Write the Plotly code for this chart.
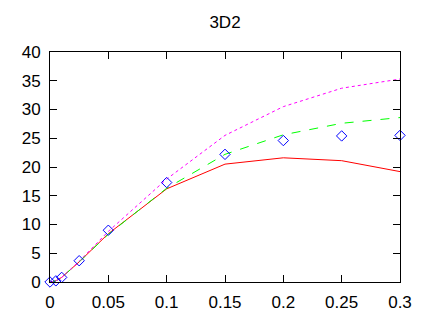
import plotly.graph_objects as go

x_lines = [0, 0.005, 0.01, 0.025, 0.05, 0.1, 0.15, 0.2, 0.25, 0.3]
red_vals = [0, 0.2, 0.8, 3.5, 8.4, 16.2, 20.5, 21.6, 21.1, 19.2]
green_vals = [0, 0.2, 0.8, 3.5, 8.3, 16.3, 22.2, 25.6, 27.6, 28.6]
magenta_vals = [0, 0.2, 0.8, 3.6, 8.8, 17.9, 25.5, 30.5, 33.7, 35.3]

x_points = [0, 0.005, 0.01, 0.025, 0.05, 0.1, 0.15, 0.2, 0.25, 0.3]
point_vals = [0, 0.2, 0.8, 3.7, 9.0, 17.3, 22.2, 24.6, 25.4, 25.5]

x_ticks = [0, 0.05, 0.1, 0.15, 0.2, 0.25, 0.3]
x_ticktext = ["0", "0.05", "0.1", "0.15", "0.2", "0.25", "0.3"]
y_ticks = [0, 5, 10, 15, 20, 25, 30, 35, 40]

fig = go.Figure()
fig.add_trace(go.Scatter(x=x_lines, y=red_vals, mode="lines", cliponaxis=False,
                         line=dict(color="#ff0000", width=1)))
fig.add_trace(go.Scatter(x=x_lines, y=green_vals, mode="lines", cliponaxis=False,
                         line=dict(color="#00ff00", width=1, dash="dash")))
fig.add_trace(go.Scatter(x=x_lines, y=magenta_vals, mode="lines", cliponaxis=False,
                         line=dict(color="#ff00ff", width=1, dash="dot")))
fig.add_trace(go.Scatter(x=x_points, y=point_vals, mode="markers", cliponaxis=False,
                         marker=dict(symbol="diamond-open", size=8, color="#0000ff",
                                     line=dict(width=1, color="#0000ff"))))

font = dict(family="Liberation Sans, Arial, sans-serif", size=17, color="black")
axis_common = dict(showgrid=False, zeroline=False, showline=True, linecolor="black",
                   linewidth=1, mirror="ticks", ticks="inside", ticklen=7,
                   tickcolor="black", tickwidth=1, tickfont=font, automargin=False)

# page body has an 8px default margin; margins compensate for it
fig.update_layout(
    width=429, height=317,
    margin=dict(l=42, r=37, t=44, b=43),
    paper_bgcolor="white", plot_bgcolor="white",
    showlegend=False,
    title=dict(text="3D2", x=(225 - 8) / 429, xanchor="center", xref="container",
               y=1 - 14 / 317, yref="container", yanchor="middle",
               font=dict(family="Liberation Sans, Arial, sans-serif", size=17, color="black")),
    xaxis=dict(range=[0, 0.3], tickvals=x_ticks, ticktext=x_ticktext,
               ticklabelstandoff=5, **axis_common),
    yaxis=dict(range=[0, 40], tickvals=y_ticks, ticklabelstandoff=5, **axis_common),
)

fig.write_html("out.html")
